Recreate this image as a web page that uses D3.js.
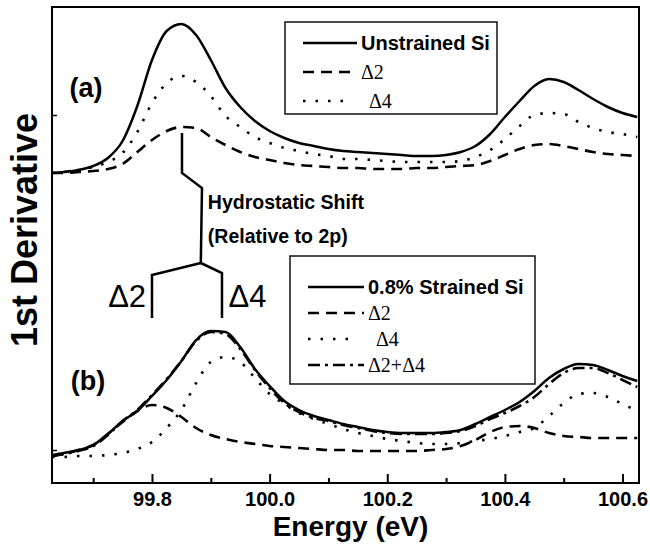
<!DOCTYPE html>
<html>
<head>
<meta charset="utf-8">
<script src="https://cdn.jsdelivr.net/npm/d3@7"></script>
<style>
  body { margin: 0; background: #fff; overflow: hidden; }
  svg { display: block; }
  text { font-family: "Liberation Sans", Arial, sans-serif; }
</style>
</head>
<body>
<div id="chart"></div>
<script>
// energies (eV) at which the curves were read
const energy = [99.63, 99.65, 99.675, 99.70, 99.725, 99.75, 99.775, 99.80, 99.825, 99.85,
  99.875, 99.90, 99.925, 99.95, 99.975, 100.0, 100.025, 100.05, 100.075, 100.10,
  100.125, 100.15, 100.175, 100.20, 100.225, 100.25, 100.275, 100.30, 100.325, 100.35,
  100.375, 100.40, 100.425, 100.45, 100.475, 100.50, 100.525, 100.55, 100.575, 100.60, 100.625];

// (a) unstrained Si (arb. units, offset panels share one axis)
const unstrained = [310, 311, 313, 317, 325, 342, 377, 423, 452, 459,
  448, 423, 395, 376, 362, 352, 345, 340, 337, 334,
  332, 331, 330, 329, 328, 327, 327, 328, 331, 337,
  349, 366, 382, 397, 404, 401, 393, 384, 376, 370, 366];
const unstrainedD2 = [310, 310, 311, 312, 314, 319, 331, 343, 352, 356,
  355, 346, 338, 331, 326, 323, 320, 318, 317, 316,
  315, 315, 314, 314, 314, 315, 315, 316, 317, 318,
  322, 328, 334, 338, 339, 337, 334, 331, 329, 328, 327];
const unstrainedD4 = [310, 311, 313, 316, 321, 330, 351, 380, 400, 407,
  401, 387, 367, 356, 346, 340, 335, 332, 329, 327,
  324, 324, 323, 322, 321, 321, 321, 321, 322, 326,
  333, 344, 357, 368, 370, 369, 361, 355, 351, 349, 346];

// (b) 0.8% strained Si
const strained = [28, 30, 33, 38, 49, 62, 72, 87, 103, 122,
  143, 152, 151, 136, 114, 97, 82, 73, 67, 63,
  59, 56, 53, 51, 50, 50, 50, 51, 53, 59,
  66, 73, 81, 92, 105, 114, 119, 118, 113, 107, 102];
const strainedD2 = [27, 29, 33, 38, 49, 61, 72, 78, 75, 66,
  55, 48, 44, 41, 39, 37, 36, 35, 34, 33,
  33, 32, 32, 32, 32, 32, 33, 34, 37, 43,
  51, 56, 57, 55, 50, 47, 46, 45, 45, 45, 45];
const strainedD4 = [26, 26, 27, 27, 28, 30, 34, 41, 55, 73,
  100, 121, 126, 121, 105, 89, 79, 70, 64, 59,
  54, 50, 47, 44, 42, 40, 39, 39, 40, 42,
  44, 47, 51, 55, 67, 80, 89, 90, 86, 79, 72];
const strainedSum = [27, 29, 32, 37, 48, 62, 73, 88, 104, 122,
  142, 151, 149, 134, 113, 95, 80, 71, 65, 62,
  58, 55, 52, 50, 49, 49, 49, 50, 52, 57,
  64, 70, 77, 86, 99, 110, 115, 115, 110, 103, 96];

const xTicks = [99.8, 100.0, 100.2, 100.4, 100.6];
const xMinorTicks = [99.7, 99.9, 100.1, 100.3, 100.5];
const yTicks = [33, 368];

const width = 650, height = 552;
const margin = { top: 7, right: 11, bottom: 69, left: 52 };
const innerWidth = width - margin.left - margin.right;
const innerHeight = height - margin.top - margin.bottom;

const dashes = {
  solid: null,
  dash: '11,7',
  dot: '2.5,10',
  dashdot: '12,5,3,5'
};

const svg = d3.select('#chart')
  .append('svg')
  .attr('width', width)
  .attr('height', height)
  .append('g')
  .attr('transform', `translate(${margin.left}, ${margin.top})`);

const x = d3.scaleLinear().domain([99.63, 100.628]).range([0, innerWidth]);
const y = d3.scaleLinear().domain([0, 476]).range([innerHeight, 0]);

// bottom axis, ticks pointing in
const xAxis = svg.append('g')
  .attr('transform', `translate(0, ${innerHeight})`)
  .call(d3.axisBottom(x).tickValues(xTicks).tickSizeInner(-9).tickSizeOuter(0)
    .tickPadding(9).tickFormat(d3.format('.1f')));
xAxis.select('.domain').remove();
xAxis.selectAll('line').attr('stroke', '#000').attr('stroke-width', 2);
xAxis.selectAll('text')
  .attr('font-size', 20)
  .attr('font-weight', 'bold')
  .attr('fill', '#000');

const xMinor = svg.append('g')
  .attr('transform', `translate(0, ${innerHeight})`)
  .call(d3.axisBottom(x).tickValues(xMinorTicks).tickSizeInner(-5).tickSizeOuter(0).tickFormat(''));
xMinor.select('.domain').remove();
xMinor.selectAll('line').attr('stroke', '#000').attr('stroke-width', 2);

const yAxis = svg.append('g')
  .call(d3.axisLeft(y).tickValues(yTicks).tickSizeInner(-5).tickSizeOuter(0).tickFormat(''));
yAxis.select('.domain').remove();
yAxis.selectAll('line').attr('stroke', '#000').attr('stroke-width', 1.5);

// frame
svg.append('rect')
  .attr('width', innerWidth)
  .attr('height', innerHeight)
  .attr('fill', 'none')
  .attr('stroke', '#000')
  .attr('stroke-width', 2);

function drawCurve(values, style) {
  const line = d3.line()
    .x((d, i) => x(energy[i]))
    .y(d => y(d))
    .curve(d3.curveMonotoneX);
  svg.append('path')
    .datum(values)
    .attr('fill', 'none')
    .attr('stroke', '#000')
    .attr('stroke-width', style === 'solid' ? 2.5 : 2.6)
    .attr('stroke-dasharray', dashes[style])
    .attr('d', line);
}

drawCurve(unstrainedD2, 'dash');
drawCurve(unstrainedD4, 'dot');
drawCurve(unstrained, 'solid');
drawCurve(strainedD2, 'dash');
drawCurve(strainedD4, 'dot');
drawCurve(strainedSum, 'dashdot');
drawCurve(strained, 'solid');

// panel labels
svg.append('text').attr('x', 34).attr('y', 90).attr('text-anchor', 'middle')
  .attr('font-size', 27).attr('font-weight', 'bold').text('(a)');
svg.append('text').attr('x', 36).attr('y', 383).attr('text-anchor', 'middle')
  .attr('font-size', 27).attr('font-weight', 'bold').text('(b)');

// hydrostatic shift / splitting marker
const marker = [[99.851, 350], [99.851, 310], [99.885, 295], [99.883, 220]];
const branches = [
  [[99.883, 220], [99.80, 208], [99.80, 165]],
  [[99.883, 220], [99.919, 210], [99.919, 165]]
];
const markLine = d3.line().x(d => x(d[0])).y(d => y(d[1]));
[marker, ...branches].forEach(pts => {
  svg.append('path')
    .attr('d', markLine(pts))
    .attr('fill', 'none')
    .attr('stroke', '#000')
    .attr('stroke-width', 2.5);
});
svg.append('text').attr('x', x(99.895)).attr('y', 202)
  .attr('font-size', 19.5).attr('font-weight', 'bold').text('Hydrostatic Shift');
svg.append('text').attr('x', x(99.895)).attr('y', 236)
  .attr('font-size', 19.5).attr('font-weight', 'bold').text('(Relative to 2p)');
svg.append('text').attr('x', x(99.79)).attr('y', 300).attr('text-anchor', 'end')
  .attr('font-size', 31).text('\u03942');
svg.append('text').attr('x', x(99.93)).attr('y', 300)
  .attr('font-size', 31).text('\u03944');

// legends
function drawLegend(left, top, w, h, rows, rowStart, rowGap, lineLen) {
  const g = svg.append('g').attr('transform', `translate(${left}, ${top})`);
  g.append('rect').attr('width', w).attr('height', h)
    .attr('fill', '#fff').attr('stroke', '#111').attr('stroke-width', 1.5);
  rows.forEach((r, i) => {
    const ry = rowStart + i * rowGap;
    g.append('line')
      .attr('x1', 18).attr('x2', 18 + (r.style === 'dot' ? lineLen - 8 : lineLen))
      .attr('y1', ry).attr('y2', ry)
      .attr('stroke', '#000').attr('stroke-width', 2.5)
      .attr('stroke-dasharray', dashes[r.style]);
    g.append('text')
      .attr('x', 18 + lineLen + 4 + (r.style === 'dot' ? 8 : 0))
      .attr('y', ry + 7)
      .attr('font-size', 20)
      .attr('font-weight', r.bold ? 'bold' : 'normal')
      .style('font-family', r.bold ? null : '"Liberation Serif", "Times New Roman", serif')
      .text(r.label);
  });
}

drawLegend(233, 15, 212, 92, [
  { label: 'Unstrained Si', style: 'solid', bold: true },
  { label: '\u03942', style: 'dash' },
  { label: '\u03944', style: 'dot' }
], 21, 29, 54);

drawLegend(238, 249, 245, 128, [
  { label: '0.8% Strained Si', style: 'solid', bold: true },
  { label: '\u03942', style: 'dash' },
  { label: '\u03944', style: 'dot' },
  { label: '\u03942+\u03944', style: 'dashdot' }
], 31, 26, 56);

// axis titles
svg.append('text')
  .attr('x', innerWidth / 2 + 5)
  .attr('y', innerHeight + 53)
  .attr('text-anchor', 'middle')
  .attr('font-size', 28)
  .attr('font-weight', 'bold')
  .text('Energy (eV)');

svg.append('text')
  .attr('transform', `translate(${37 - margin.left}, ${230 - margin.top}) rotate(-90)`)
  .attr('text-anchor', 'middle')
  .attr('font-size', 36)
  .attr('font-weight', 'bold')
  .text('1st Derivative');
</script>
</body>
</html>
